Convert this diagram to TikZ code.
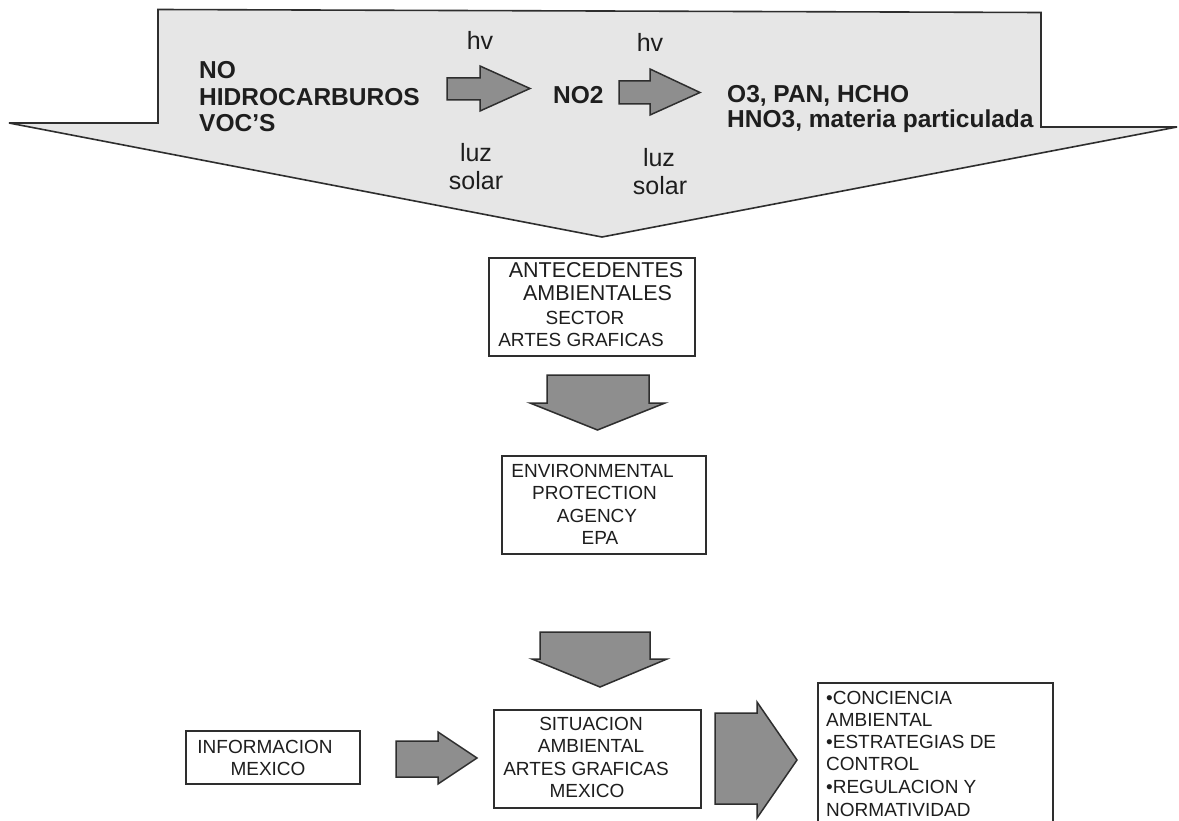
\documentclass[tikz,border=0pt]{standalone}
\usepackage{fontspec}
\setmainfont{Liberation Sans}
\definecolor{inkc}{HTML}{1E1E1E}
\definecolor{edgec}{HTML}{2E2E2E}
\definecolor{bigfill}{HTML}{E6E6E6}
\definecolor{arrfill}{HTML}{8E8E8E}
\tikzset{
  bigshape/.style={draw=edgec, line width=1.6pt, fill=bigfill, line join=miter},
  blockarrow/.style={draw=edgec, line width=1.5pt, fill=arrfill, line join=miter},
  boxnode/.style={draw=edgec, line width=1.8pt, fill=white},
  boldtxt/.style={inner sep=0pt, text=inkc, font=\fontsize{24.5}{26}\selectfont\bfseries},
  regtxt/.style={inner sep=0pt, text=inkc, font=\fontsize{25}{27}\selectfont},
  midtxt/.style={inner sep=0pt, text=inkc, font=\fontsize{21.5}{23}\selectfont},
  smalltxt/.style={inner sep=0pt, text=inkc, font=\fontsize{19}{22}\selectfont},
}
\begin{document}
\begin{tikzpicture}[x=1pt,y=-1pt]
\useasboundingbox (0,0) rectangle (1179,821);
\clip (0,0) rectangle (1179,821);
\fill[white] (0,0) rectangle (1179,821);

% big callout arrow
\draw[bigshape] (158,9.5) -- (1041,12.5) -- (1041,127) -- (1177,127) -- (602,237) -- (9,123) -- (158,123) -- cycle;

% reaction text
\node[boldtxt, anchor=base west] (no) at (199,79) {NO};
\node[boldtxt, anchor=base west] (hc) at (199,106) {HIDROCARBUROS};
\node[boldtxt, anchor=base west] (voc) at (199,132) {VOC’S};
\node[boldtxt, anchor=base west] (no2) at (553,104) {NO2};
\node[boldtxt, anchor=base west] (prod1) at (727,103) {O3, PAN, HCHO};
\node[boldtxt, anchor=base west] (prod2) at (727,128) {HNO3, materia particulada};

\node[regtxt, anchor=base] (hv1) at (480,50) {hv};
\node[regtxt, anchor=base] (hv2) at (650,52) {hv};
\node[regtxt, anchor=base] (luz1) at (476,162) {luz};
\node[regtxt, anchor=base] (sol1) at (476,190) {solar};
\node[regtxt, anchor=base] (luz2) at (659,167) {luz};
\node[regtxt, anchor=base] (sol2) at (660,195) {solar};

% small reaction arrows
\draw[blockarrow] (447,78) -- (480,78) -- (480,66) -- (530,88.5) -- (480,111) -- (480,100) -- (447,100) -- cycle;
\draw[blockarrow] (619,81) -- (650,81) -- (650,69) -- (700,92.5) -- (650,115) -- (650,104) -- (619,104) -- cycle;

% ANTECEDENTES box
\node[boxnode, minimum width=206pt, minimum height=98pt] (ante) at (592,307) {};
\node[midtxt, anchor=base] (ante1) at (596,278) {ANTECEDENTES};
\node[midtxt, anchor=base] (ante2) at (597.5,301) {AMBIENTALES};
\node[smalltxt, anchor=base] (ante3) at (585,324) {SECTOR};
\node[smalltxt, anchor=base] (ante4) at (581,346) {ARTES GRAFICAS};

% down arrow 1
\draw[blockarrow] (547,375) -- (649,375) -- (649,403) -- (665,403) -- (597.5,430) -- (530,403) -- (547,403) -- cycle;

% EPA box
\node[boxnode, minimum width=204pt, minimum height=98pt] (epa) at (604,505) {};
\node[smalltxt, anchor=base] (epa1) at (592.5,477) {ENVIRONMENTAL};
\node[smalltxt, anchor=base] (epa2) at (594.5,499) {PROTECTION};
\node[smalltxt, anchor=base] (epa3) at (597,522) {AGENCY};
\node[smalltxt, anchor=base] (epa4) at (600,544) {EPA};

% down arrow 2
\draw[blockarrow] (540,632) -- (650,632) -- (650,659) -- (667,659) -- (600,687) -- (532,659) -- (540,659) -- cycle;

% INFORMACION box
\node[boxnode, minimum width=174pt, minimum height=53pt] (info) at (273,757.5) {};
\node[smalltxt, anchor=base] (info1) at (265,753) {INFORMACION};
\node[smalltxt, anchor=base] (info2) at (268,775) {MEXICO};

% arrow info -> situacion
\draw[blockarrow] (396,741) -- (438,741) -- (438,732) -- (477,758) -- (438,784) -- (438,777) -- (396,777) -- cycle;

% SITUACION box
\node[boxnode, minimum width=207pt, minimum height=98pt] (sit) at (597.5,759) {};
\node[smalltxt, anchor=base] (sit1) at (591,730) {SITUACION};
\node[smalltxt, anchor=base] (sit2) at (591,752) {AMBIENTAL};
\node[smalltxt, anchor=base] (sit3) at (586,775) {ARTES GRAFICAS};
\node[smalltxt, anchor=base] (sit4) at (587,797) {MEXICO};

% big right arrow
\draw[blockarrow] (715,713) -- (757,713) -- (757,702) -- (797,760) -- (757,818) -- (757,804) -- (715,804) -- cycle;

% outcome box (runs past the bottom edge)
\node[boxnode, minimum width=235pt, minimum height=160pt, anchor=north west] (res) at (817,682) {};
\node[smalltxt, anchor=base west] (res1) at (826,704) {•CONCIENCIA};
\node[smalltxt, anchor=base west] (res2) at (826,726) {AMBIENTAL};
\node[smalltxt, anchor=base west] (res3) at (826,748) {•ESTRATEGIAS DE};
\node[smalltxt, anchor=base west] (res4) at (826,770) {CONTROL};
\node[smalltxt, anchor=base west] (res5) at (826,793) {•REGULACION Y};
\node[smalltxt, anchor=base west] (res6) at (826,816) {NORMATIVIDAD};
\end{tikzpicture}
\end{document}
